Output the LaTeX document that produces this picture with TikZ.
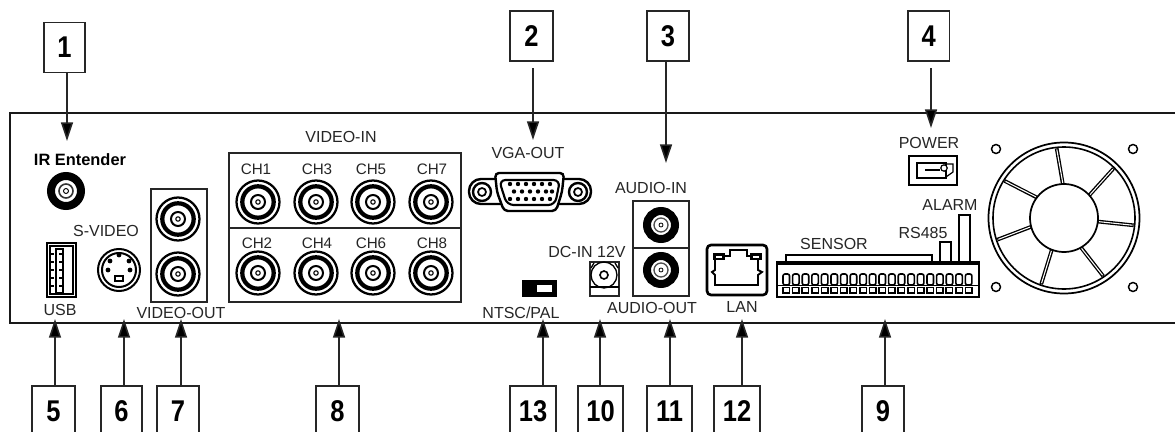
\documentclass[tikz,border=0pt]{standalone}
\usepackage{fontspec}
\setmainfont{Liberation Sans}
\newfontfamily\numfont[FakeStretch=0.85]{Liberation Sans}
\usetikzlibrary{arrows.meta}
\tikzset{
  numbox/.style={draw=black!85,line width=.9pt,fill=white,inner sep=0pt,minimum height=37.5pt,minimum width=#1*.75pt,font=\fontsize{22.5}{24}\numfont\bfseries},
  lab/.style={inner sep=0pt,font=\fontsize{12}{12}\selectfont,text=black!85},
  chlab/.style={inner sep=0pt,font=\fontsize{11.4}{12}\selectfont,text=black!85},
  conn/.style={line width=1.2pt,black!85,-{Triangle[length=14pt,width=9pt,fill=black]}},
  gap/.style={shorten <=5.5pt},
  frame/.style={line width=1.2pt,black!85},
  bnc/.pic={
    \draw[line width=1.7pt] (0,0) circle[radius=21.5];
    \draw[line width=3.2pt] (0,0) circle[radius=15.7];
    \draw[line width=1.5pt] (0,0) circle[radius=7];
    \draw[line width=.8pt] (0,0) circle[radius=2.2];
  },
  rca/.pic={
    \draw[line width=6pt] (0,0) circle[radius=14];
    \draw[line width=1pt,black!70] (0,0) circle[radius=7];
    \draw[line width=.6pt] (0,0) circle[radius=2];
  },
  screw/.pic={\draw[line width=1.1pt] (0,0) circle[radius=4.5];},
  vscrew/.pic={
    \draw[line width=1.8pt] (0,0) circle[radius=9];
    \draw[line width=1.3pt] (0,0) circle[radius=4];
  }
}
\begin{document}
\begin{tikzpicture}[x=.75pt,y=-.75pt]
\path[use as bounding box,clip] (0,0) rectangle (1175,432);
\fill[white] (0,0) rectangle (1175,432);

% panel
\draw[line width=1.9pt,black!90] (1176,113) -- (10,113) -- (10,323) -- (1176,323);

% ----- IR
\node[inner sep=0pt,font=\fontsize{12.3}{12}\selectfont\bfseries] (ir) at (80,160) {IR Entender};
\draw[line width=6pt] (66,191) circle[radius=15];
\draw[line width=1.2pt,black!80] (66,191) circle[radius=7];
\draw[line width=.7pt] (66,191) circle[radius=2.5];

% ----- USB
\draw[line width=1.5pt] (47,243) rectangle (76,297);
\draw[line width=.8pt] (50,246) rectangle (73,294);
\draw[line width=1.1pt] (56,249) rectangle (63,293);
\foreach \yy in {254,262,270,278,286} \draw[line width=1pt] (51,\yy) -- (54,\yy) (59,\yy) -- (63,\yy);
\node[lab] (usb) at (60,310) {USB};

% ----- S-video
\node[lab] (svid) at (106,231) {S-VIDEO};
\draw[line width=1.5pt] (119,270) circle[radius=21];
\draw[line width=1.5pt] (119,270) circle[radius=17];
\fill (119,255) circle[radius=2.4] (110,261) circle[radius=2.4] (129,261) circle[radius=2.4] (108,270) circle[radius=2.4] (130,270) circle[radius=2.4];
\draw[line width=1pt] (115,276) rectangle (123,281);

% ----- video out
\draw[frame] (151,189) rectangle (207,302);
\pic at (178,219) {bnc};
\pic at (178,274) {bnc};
\node[lab] (vout) at (181,313) {VIDEO-OUT};

% ----- video in
\node[lab] (vin) at (341,137) {VIDEO-IN};
\draw[frame] (229,153) rectangle (461,302);
\draw[frame] (229,228) -- (461,228);
\foreach \xx in {258,316,373,431} { \pic at (\xx,202) {bnc}; \pic at (\xx,273) {bnc}; }
\node[chlab] (ch1) at (256,169) {CH1};
\node[chlab] (ch3) at (317,169) {CH3};
\node[chlab] (ch5) at (371,169) {CH5};
\node[chlab] (ch7) at (432,169) {CH7};
\node[chlab] (ch2) at (257,243) {CH2};
\node[chlab] (ch4) at (317,243) {CH4};
\node[chlab] (ch6) at (371,243) {CH6};
\node[chlab] (ch8) at (432,243) {CH8};

% ----- VGA
\node[lab] (vga) at (528,153) {VGA-OUT};
\draw[line width=1.8pt,rounded corners=9pt] (469,179) -- (591,179) -- (591,204) -- (469,204) -- cycle;
\pic at (482,192) {vscrew};
\pic at (578,192) {vscrew};
\draw[line width=1.8pt,fill=white,rounded corners=3pt] (495,173) -- (564,173) -- (562,192) -- (556,211) -- (504,211) -- (497,192) -- cycle;
\draw[line width=1.6pt,fill=white,rounded corners=5pt] (499,180) -- (560,180) -- (555,205) -- (507,205) -- cycle;
\foreach \xx in {510,518,526,534,542,550} \fill (\xx,184) circle[radius=2.2];
\foreach \xx in {514,522,530,538,546,552} \fill (\xx,191.5) circle[radius=2.2];
\foreach \xx in {510,518,526,534,542,550} \fill (\xx,199) circle[radius=2.2];

% ----- audio
\node[lab] (ain) at (651,188) {AUDIO-IN};
\draw[frame] (633,201) rectangle (689,296);
\draw[frame] (633,248) -- (689,248);
\pic at (661,225) {rca};
\pic at (661,270) {rca};
\node[lab] (aout) at (652,308) {AUDIO-OUT};

% ----- DC
\node[lab] (dc) at (587,252) {DC-IN 12V};
\draw[frame] (590,262) rectangle (619,296);
\draw[line width=1pt] (590,287) -- (619,287);
\draw[line width=1pt] (604,275) circle[radius=13];
\draw[line width=1.2pt] (604,275) circle[radius=4];
\draw[line width=1pt] (594,263) -- (591,268) (615,263) -- (618,268);

% ----- NTSC switch
\draw[line width=1pt,fill=black] (523,281) rectangle (556,296);
\fill[white] (537,285) rectangle (552,292);
\node[lab] (ntsc) at (521,313) {NTSC/PAL};

% ----- LAN
\draw[line width=2pt,rounded corners=3pt] (707,245) rectangle (767,295);
\draw[line width=1.4pt] (715,256) -- (730,256) -- (730,250) -- (747,250) -- (747,256) -- (758,256) -- (758,270) -- (762,272) -- (758,275) -- (758,285) -- (715,285) -- (715,275) -- (712,272) -- (715,270) -- cycle;
\fill (713,253) rectangle (725,260);
\fill (750,253) rectangle (762,260);
\fill[white] (716,256) rectangle (722,258);
\fill[white] (753,256) rectangle (759,258);
\node[lab] (lan) at (742,307) {LAN};

% ----- terminal block
\node[lab] (sensor) at (834,244) {SENSOR};
\node[lab] (rs) at (923,233) {RS485};
\node[lab] (alarm) at (950,205) {ALARM};
\draw[line width=.9pt] (786,262) -- (786,255) -- (932,255) -- (932,262);
\draw[line width=.9pt] (940,262) -- (940,242) -- (951,242) -- (951,262);
\draw[line width=.9pt] (959,262) -- (959,215) -- (970,215) -- (970,262);
\draw[line width=1.5pt] (777,262) rectangle (979,297);
\fill (777,261) rectangle (979,265);
\foreach \i in {0,...,19} {
  \pgfmathsetmacro{\xx}{783+\i*9.6}
  \draw[line width=1.2pt,rounded corners=1.5pt] (\xx,274) rectangle (\xx+6.5,285);
  \draw[line width=1.1pt] (\xx,287.5) rectangle (\xx+6.5,293);
}
\draw[line width=1.4pt] (777,285.5) -- (979,285.5);

% ----- power
\node[lab] (power) at (929,143) {POWER};
\draw[line width=1pt] (909,156) rectangle (957,185);
\draw[line width=1.6pt] (917,163) rectangle (946,178);
\draw[line width=.9pt] (925,170) -- (940,170);
\draw[line width=.9pt,fill=white] (944,168) circle[radius=3.2];
\draw[line width=.9pt] (946,164) -- (953,164) -- (953,172) -- (946,177);

% ----- fan
\pic at (996,149) {screw};
\pic at (1133,149) {screw};
\pic at (996,287) {screw};
\pic at (1133,287) {screw};
\draw[line width=1.3pt] (1064,218) circle[radius=75.5];
\draw[line width=1.2pt] (1064,218) circle[radius=71];
\begin{scope}[shift={(1064,218)}]
  \foreach \ai/\ao in {92/96,42/45,-6/-6,-60/-56,-111/-109,-165/-162,143/148} {
    \draw[line width=2.8pt] ({-\ai}:34) -- ({-\ao}:70);
    \draw[line width=.8pt,white] ({-\ai}:35) -- ({-\ao}:69);
  }
  \draw[line width=1.3pt,fill=white] (0,0) circle[radius=34];
\end{scope}

% ----- callouts
\node[numbox=41] (n1) at (64.5,47.5) {1};
\node[numbox=43] (n2) at (531.5,36) {2};
\node[numbox=42] (n3) at (668,36) {3};
\node[numbox=41.5] (n4) at (928.7,36) {4};
\node[numbox=43] (n5) at (53.5,411) {5};
\node[numbox=41] (n6) at (121.5,411) {6};
\node[numbox=42] (n7) at (178,411) {7};
\node[numbox=43] (n8) at (337.5,411) {8};
\node[numbox=46] (n13) at (533,411) {13};
\node[numbox=45] (n10) at (600.5,411) {10};
\node[numbox=45] (n11) at (669.5,411) {11};
\node[numbox=46] (n12) at (737,411) {12};
\node[numbox=42] (n9) at (883,411) {9};

\coordinate (s1) at (67,72);  \coordinate (t1) at (67,141);
\coordinate (s2) at (533,61); \coordinate (t2) at (533,140);
\coordinate (s3) at (666,61); \coordinate (t3) at (666,163);
\coordinate (s4) at (931,61); \coordinate (t4) at (931,128);
\coordinate (s5) at (55,386); \coordinate (t5) at (55,319);
\coordinate (s6) at (124,386); \coordinate (t6) at (124,319);
\coordinate (s7) at (181,386); \coordinate (t7) at (181,319);
\coordinate (s8) at (339,386); \coordinate (t8) at (339,319);
\coordinate (s13) at (543,386); \coordinate (t13) at (543,319);
\coordinate (s10) at (600,386); \coordinate (t10) at (600,319);
\coordinate (s11) at (670,386); \coordinate (t11) at (670,319);
\coordinate (s12) at (742,386); \coordinate (t12) at (742,319);
\coordinate (s9) at (885,386); \coordinate (t9) at (885,319);

\draw[conn] (s1) -- (t1);
\draw[conn,gap] (s2) -- (t2);
\draw[conn] (s3) -- (t3);
\draw[conn,gap] (s4) -- (t4);
\foreach \k in {5,6,7,8,13,10,11,12,9} \draw[conn] (s\k) -- (t\k);
\end{tikzpicture}
\end{document}
